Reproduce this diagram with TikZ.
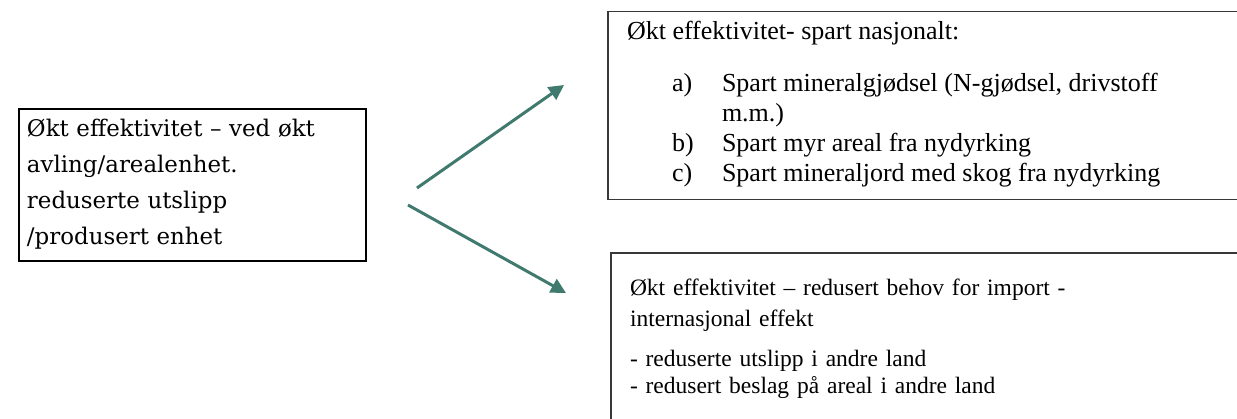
\documentclass[tikz,border=0pt]{standalone}
\usepackage{fontspec}
\setmainfont{Liberation Serif}
\newfontfamily\venstrefont{DejaVu Serif}
\usetikzlibrary{arrows.meta}
\definecolor{pilfarge}{RGB}{64,122,110}
\definecolor{rammefarge}{RGB}{55,55,55}

\begin{document}
\begin{tikzpicture}[x=1pt,y=-1pt,>={Triangle[length=15pt,width=15pt]},
  every node/.style={inner sep=0pt,outer sep=0pt},
  boks/.style={draw,anchor=north west},
  tekst/.style={anchor=base west,align=left,font=\fontsize{26}{29.7}\selectfont}]
  \useasboundingbox (0,0) rectangle (1237,419);
  % bokser
  \node[boks,line width=2.2pt,minimum width=347pt,minimum height=152pt] (V) at (19,109) {};
  \node[boks,rammefarge,line width=1.2pt,minimum width=660pt,minimum height=188pt] (N) at (608,11.5) {};
  \node[boks,rammefarge,line width=1.2pt,minimum width=660pt,minimum height=190pt] (I) at (611,253) {};
  % tekst
  \node[tekst,text width=340pt,font=\venstrefont\fontsize{22.9}{36}\selectfont] (Vtxt) at (27,137)
    {Økt effektivitet – ved økt\\avling/arealenhet.\\reduserte utslipp\\/produsert enhet};
  \node[tekst] (Nhode) at (627,40) {Økt effektivitet- spart nasjonalt:};
  \node[tekst] (Nliste) at (672,92) {\begin{tabular}[t]{@{}p{50pt}@{}l@{}}
    a) & Spart mineralgjødsel (N-gjødsel, drivstoff\\
       & m.m.)\\
    b) & Spart myr areal fra nydyrking\\
    c) & Spart mineraljord med skog fra nydyrking
  \end{tabular}};
  \node[tekst,text width=600pt,font=\fontsize{23.5}{31}\selectfont] (Ihode) at (630,296)
    {Økt effektivitet – redusert behov for import -\\internasjonal effekt};
  \node[tekst,text width=600pt,font=\fontsize{23.5}{26.5}\selectfont] (Iliste) at (630,367)
    {- reduserte utslipp i andre land\\- redusert beslag på areal i andre land};
  % piler
  \coordinate (S1) at (417,188);
  \coordinate (E1) at (564,85);
  \coordinate (S2) at (408,205);
  \coordinate (E2) at (566,293);
  \draw[->,pilfarge,line width=3pt] (S1)--(E1);
  \draw[->,pilfarge,line width=3pt] (S2)--(E2);
\end{tikzpicture}
\end{document}
